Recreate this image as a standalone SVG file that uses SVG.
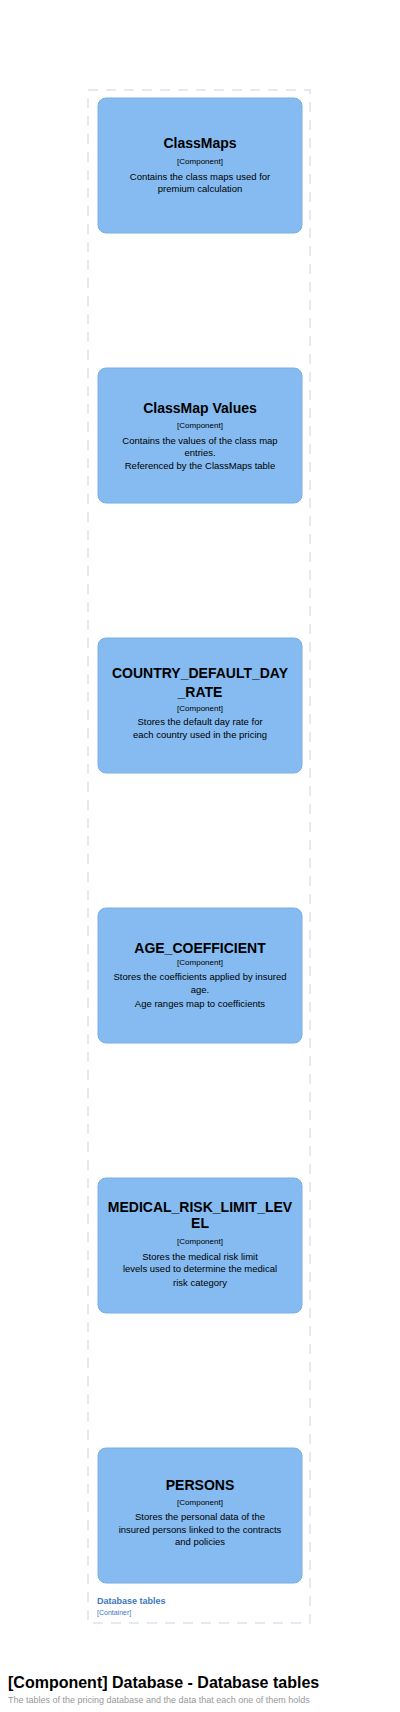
<svg xmlns="http://www.w3.org/2000/svg" width="400" height="1712" viewBox="0 0 400 1712">
<style>
.node{fill:#85bbf0;stroke:#7aaee2;stroke-width:1}
.t{font-family:"Liberation Sans",Arial,sans-serif;font-weight:bold;font-size:14px;fill:#000;text-anchor:middle}
.k{font-family:"Liberation Sans",Arial,sans-serif;font-size:8px;fill:#000;text-anchor:middle}
.d{font-family:"Liberation Sans",Arial,sans-serif;font-size:9.5px;fill:#000;text-anchor:middle}
.bl{font-family:"Liberation Sans",Arial,sans-serif;font-weight:bold;font-size:9px;fill:#3c78c0}
.bk{font-family:"Liberation Sans",Arial,sans-serif;font-size:7px;fill:#3c78c0}
</style>
<rect width="400" height="1712" fill="#ffffff"/>
<g id="boundary">
<rect x="88" y="90" width="222" height="1533" fill="none" stroke="#dae4ef" stroke-width="1.5" stroke-dasharray="10,8"/>
<text class="bl" x="97" y="1604">Database tables</text>
<text class="bk" x="97" y="1615">[Container]</text>
</g>
<g id="connectors"></g>
<g id="classmaps">
<rect class="node" x="98" y="98" width="204" height="135" rx="8"/>
<text class="t" x="200" y="148">ClassMaps</text>
<text class="k" x="200" y="164">[Component]</text>
<text class="d" x="200" y="180">Contains the class maps used for</text>
<text class="d" x="200" y="192">premium calculation</text>
</g>
<g id="classmapvalues">
<rect class="node" x="98" y="368" width="204" height="135" rx="8"/>
<text class="t" x="200" y="413">ClassMap Values</text>
<text class="k" x="200" y="428">[Component]</text>
<text class="d" x="200" y="443.5">Contains the values of the class map</text>
<text class="d" x="200" y="456">entries.</text>
<text class="d" x="200" y="468.5">Referenced by the ClassMaps table</text>
</g>
<g id="country_default_day_rate">
<rect class="node" x="98" y="638" width="204" height="135" rx="8"/>
<text class="t" x="200" y="678">COUNTRY_DEFAULT_DAY</text>
<text class="t" x="200" y="697">_RATE</text>
<text class="k" x="200" y="711">[Component]</text>
<text class="d" x="200" y="725">Stores the default day rate for</text>
<text class="d" x="200" y="738">each country used in the pricing</text>
</g>
<g id="age_coefficient">
<rect class="node" x="98" y="908" width="204" height="135" rx="8"/>
<text class="t" x="200" y="953">AGE_COEFFICIENT</text>
<text class="k" x="200" y="965">[Component]</text>
<text class="d" x="200" y="979.5">Stores the coefficients applied by insured</text>
<text class="d" x="200" y="993">age.</text>
<text class="d" x="200" y="1006.5">Age ranges map to coefficients</text>
</g>
<g id="medical_risk_limit_level">
<rect class="node" x="98" y="1178" width="204" height="135" rx="8"/>
<text class="t" x="200" y="1211.5">MEDICAL_RISK_LIMIT_LEV</text>
<text class="t" x="200" y="1228">EL</text>
<text class="k" x="200" y="1244">[Component]</text>
<text class="d" x="200" y="1260">Stores the medical risk limit</text>
<text class="d" x="200" y="1272">levels used to determine the medical</text>
<text class="d" x="200" y="1286">risk category</text>
</g>
<g id="persons">
<rect class="node" x="98" y="1448" width="204" height="135" rx="8"/>
<text class="t" x="200" y="1490">PERSONS</text>
<text class="k" x="200" y="1505">[Component]</text>
<text class="d" x="200" y="1520">Stores the personal data of the</text>
<text class="d" x="200" y="1532.5">insured persons linked to the contracts</text>
<text class="d" x="200" y="1545">and policies</text>
</g>
<g id="title">
<text x="8" y="1688" font-family="Liberation Sans,Arial,sans-serif" font-weight="bold" font-size="16" fill="#000">[Component] Database - Database tables</text>
<text x="8" y="1703" font-family="Liberation Sans,Arial,sans-serif" font-size="9" fill="#999">The tables of the pricing database and the data that each one of them holds</text>
</g>
</svg>
